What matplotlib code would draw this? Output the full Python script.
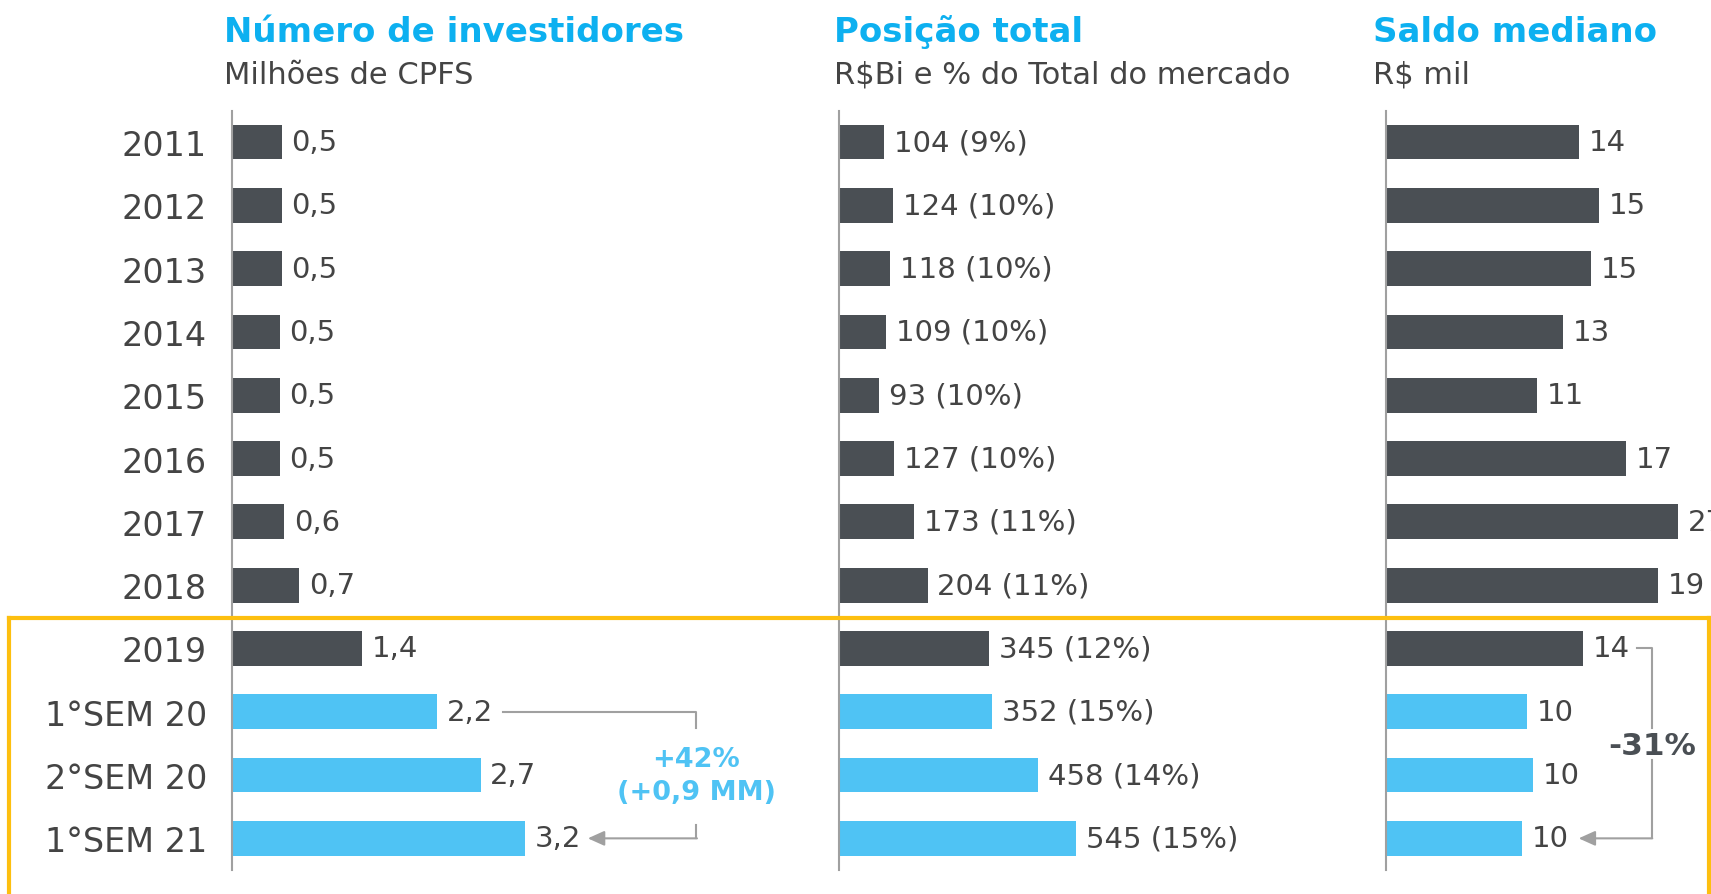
import matplotlib
matplotlib.use("Agg")
from matplotlib import pyplot as plt
from matplotlib.lines import Line2D

# data
categorias = ['2011', '2012', '2013', '2014', '2015', '2016', '2017', '2018',
              '2019', '1°SEM 20', '2°SEM 20', '1°SEM 21']
investidores = [0.54, 0.54, 0.54, 0.52, 0.52, 0.52, 0.57, 0.73, 1.42, 2.24, 2.71, 3.2]
investidores_lbl = ['0,5', '0,5', '0,5', '0,5', '0,5', '0,5', '0,6', '0,7', '1,4', '2,2', '2,7', '3,2']
posicao = [104, 124, 118, 109, 93, 127, 173, 204, 345, 352, 458, 545]
posicao_pct = [9, 10, 10, 10, 10, 10, 11, 11, 12, 15, 14, 15]
# bar lengths as drawn (2017 bar is shortened in the original)
saldo = [13.9, 15.4, 14.8, 12.8, 10.9, 17.3, 21.1, 19.6, 14.2, 10.2, 10.6, 9.8]
saldo_lbl = ['14', '15', '15', '13', '11', '17', '27', '19', '14', '10', '10', '10']

DARK = '#4a4f54'
BLUE = '#4fc3f4'
TITLE_BLUE = '#0db0f0'
TXT = '#444444'
GRAY = '#a0a0a0'
YELLOW = '#fdbf0f'

cores = [DARK] * 9 + [BLUE] * 3

plt.rcParams['font.family'] = ['DejaVu Sans']

W, H = 1711, 895
fig = plt.figure(figsize=(W / 100, H / 100), dpi=100)


def painel(x0, largura, xmax, vals, labels, titulo, subtitulo, tx):
    ax = fig.add_axes([x0 / W, 24 / H, largura / W, 759 / H])
    y = list(range(len(vals)))
    ax.barh(y, vals, height=0.55, color=cores, zorder=2)
    ax.set_xlim(0, xmax)
    ax.set_ylim(11.5, -0.49)
    for s in ['top', 'right', 'bottom']:
        ax.spines[s].set_visible(False)
    ax.spines['left'].set_color(GRAY)
    ax.spines['left'].set_linewidth(1.5)
    ax.set_xticks([])
    ax.set_yticks(y)
    ax.set_yticklabels([])
    ax.tick_params(axis='y', length=0)
    for i, (v, t) in enumerate(zip(vals, labels)):
        ax.annotate(t, (v, i), xytext=(7, 0), textcoords='offset points',
                    va='center', ha='left', fontsize=21, color=TXT,
                    annotation_clip=False)
    fig.text(tx / W, 1 - 32 / H, titulo, fontsize=24.5, fontweight='bold',
             color=TITLE_BLUE, va='center', ha='left')
    fig.text(tx / W, 1 - 75 / H, subtitulo, fontsize=22, color=TXT,
             va='center', ha='left')
    return ax


ax1 = painel(232, 520, 5.67, investidores, investidores_lbl,
             'Número de investidores', 'Milhões de CPFS', 224)
ax1.set_yticklabels(categorias, fontsize=24, color=TXT)
ax1.tick_params(axis='y', pad=18)

ax2 = painel(839, 541, 1245, posicao,
             ['%d (%d%%)' % (v, p) for v, p in zip(posicao, posicao_pct)],
             'Posição total', 'R$Bi e % do Total do mercado', 834)

ax3 = painel(1386, 325, 23.45, saldo, saldo_lbl,
             'Saldo mediano', 'R$ mil', 1373)

seta = dict(arrowstyle='-|>,head_length=1.0,head_width=0.45',
            color=GRAY, lw=1.5, shrinkA=0, shrinkB=0)

# annotation panel 1
ax1.plot([2.95, 5.06, 5.06], [9, 9, 9.26], color=GRAY, lw=1.5, clip_on=False)
ax1.plot([5.06, 5.06], [10.79, 11], color=GRAY, lw=1.5, clip_on=False)
ax1.annotate('', xy=(3.88, 11), xytext=(5.07, 11), arrowprops=seta,
             annotation_clip=False)
ax1.text(5.06, 9.74, '+42%', fontsize=19.5, fontweight='bold', color=BLUE,
         ha='center', va='center')
ax1.text(5.06, 10.27, '(+0,9 MM)', fontsize=19.5, fontweight='bold', color=BLUE,
         ha='center', va='center')

# annotation panel 3
ax3.plot([18.1, 19.2, 19.2], [8, 8, 9.26], color=GRAY, lw=1.5, clip_on=False)
ax3.plot([19.2, 19.2], [9.76, 11], color=GRAY, lw=1.5, clip_on=False)
ax3.annotate('', xy=(13.9, 11), xytext=(19.21, 11), arrowprops=seta,
             annotation_clip=False)
ax3.text(19.2, 9.53, '-31%', fontsize=22.5, fontweight='bold', color=DARK,
         ha='center', va='center')

# yellow highlight box (open at the bottom)
yt = 1 - 619 / H
xl, xr = 9 / W, 1709 / W
for xs, ys in [([xl, xr], [yt, yt]), ([xl, xl], [yt, 0]), ([xr, xr], [yt, 0])]:
    fig.add_artist(Line2D(xs, ys, transform=fig.transFigure, color=YELLOW,
                          lw=3, zorder=10))

plt.savefig('out.png', dpi=100)
